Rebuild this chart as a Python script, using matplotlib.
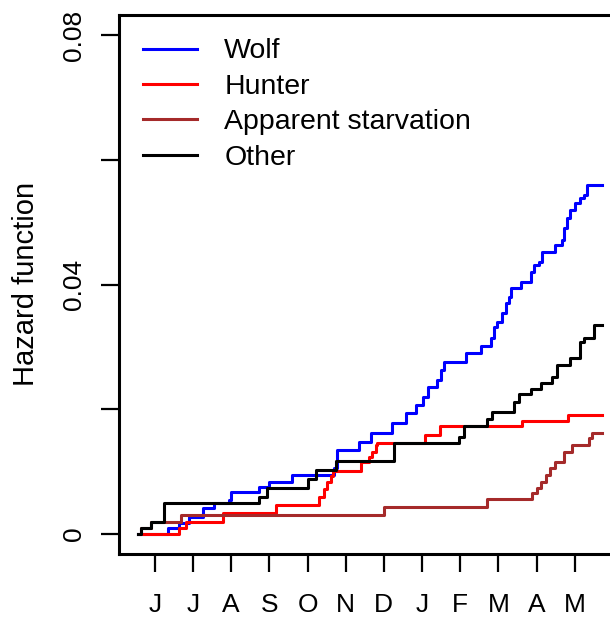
import matplotlib
matplotlib.use("Agg")
import matplotlib.pyplot as plt

# ==========================
# DATA (month 0 = first June tick)
# ==========================

months = ["J", "J", "A", "S", "O", "N", "D", "J", "F", "M", "A", "M"]
end_time = 11.72

wolf_t = [-0.445, 0.340, 0.628, 0.890, 1.249, 1.545, 1.937, 1.990, 2.723, 2.984,
          3.586, 4.686, 4.777, 5.340, 5.654, 6.204, 6.571, 6.832, 7.016, 7.147,
          7.401, 7.487, 7.573, 8.141, 8.534, 8.796, 8.882, 8.971, 9.102, 9.188,
          9.275, 9.319, 9.581, 9.843, 9.929, 10.060, 10.149, 10.497, 10.673, 10.715,
          10.804, 10.890, 11.021, 11.152, 11.238, 11.327]
wolf_h = [0, 0.00104, 0.00181, 0.00268, 0.00412, 0.00493, 0.00545, 0.00678, 0.00758, 0.00838,
          0.00946, 0.01058, 0.01347, 0.01480, 0.01615, 0.01775, 0.01936, 0.02068, 0.02202, 0.02362,
          0.02469, 0.02629, 0.02762, 0.02907, 0.03014, 0.03137, 0.03323, 0.03403, 0.03538, 0.03698,
          0.03805, 0.03938, 0.04045, 0.04205, 0.04313, 0.04366, 0.04526, 0.04633, 0.04713, 0.04901,
          0.05061, 0.05194, 0.05302, 0.05382, 0.05435, 0.05595]

hunter_t = [-0.366, 0.636, 0.812, 1.772, 3.168, 4.293, 4.432, 4.521, 4.607, 4.660,
            5.393, 5.610, 5.699, 5.785, 5.830, 7.068, 7.461, 9.626, 10.838]
hunter_h = [0, 0.00104, 0.00197, 0.00332, 0.00465, 0.00598, 0.00721, 0.00834, 0.00930, 0.01010,
            0.01159, 0.01234, 0.01318, 0.01427, 0.01454, 0.01587, 0.01727, 0.01816, 0.01916]

starv_t = [-0.445, -0.366, -0.105, 0.681, 6.003, 8.709, 9.887, 10.018, 10.105, 10.236,
           10.366, 10.497, 10.715, 10.935, 11.369, 11.458]
starv_h = [0, 0.00096, 0.00197, 0.00305, 0.00438, 0.00557, 0.00653, 0.00733, 0.00839, 0.00946,
           0.01054, 0.01159, 0.01319, 0.01427, 0.01534, 0.01614]

other_t = [-0.445, -0.366, -0.105, 0.243, 2.730, 2.950, 4.018, 4.215, 4.738, 6.264,
           7.966, 8.097, 8.709, 8.840, 9.406, 9.537, 9.843, 10.105, 10.411, 10.542,
           10.890, 11.152, 11.238, 11.500]
other_h = [0, 0.00096, 0.00197, 0.00497, 0.00598, 0.00738, 0.00882, 0.01026, 0.01178, 0.01454,
           0.01561, 0.01732, 0.01844, 0.01956, 0.02121, 0.02244, 0.02324, 0.02415, 0.02522, 0.02709,
           0.02817, 0.03084, 0.03138, 0.03351]

series = [
    ("Wolf", wolf_t, wolf_h, "#0000FF"),
    ("Hunter", hunter_t, hunter_h, "#FF0000"),
    ("Apparent starvation", starv_t, starv_h, "#A52A2A"),
    ("Other", other_t, other_h, "#000000"),
]

# ==========================
# PLOT
# ==========================

plt.rcParams["font.family"] = ["Liberation Sans", "DejaVu Sans"]

fig = plt.figure(figsize=(6.1, 6.2), dpi=100)
ax = fig.add_axes([119 / 610, 66 / 620, 503 / 610, 539 / 620])

for name, t, h, col in series:
    ax.step(t + [end_time], h + [h[-1]], where="post", color=col, lw=2.2, label=name)

ax.set_xlim(-0.94, 12.24)
ax.set_ylim(-0.0032, 0.0832)

ax.set_xticks(range(len(months)))
ax.set_xticklabels(months)
ax.set_yticks([0, 0.02, 0.04, 0.06, 0.08])
ax.set_yticklabels(["0", "", "0.04", "", "0.08"], rotation=90, va="center")

ax.tick_params(axis="both", direction="out", length=13, width=1.6, labelsize=19)
ax.tick_params(axis="x", pad=15)
ax.tick_params(axis="y", pad=11)

for sp in ax.spines.values():
    sp.set_linewidth(2.2)

fig.text(26 / 610, 1 - 284 / 620, "Hazard function", rotation=90,
         ha="center", va="center", fontsize=21)

ax.legend(loc="upper left", bbox_to_anchor=(143 / 610, 1 - 38.5 / 620),
          bbox_transform=fig.transFigure, frameon=False, fontsize=20.5,
          borderpad=0, borderaxespad=0, handlelength=1.9, handletextpad=0.95,
          labelspacing=0.33)

fig.savefig("out.png", dpi=100)
